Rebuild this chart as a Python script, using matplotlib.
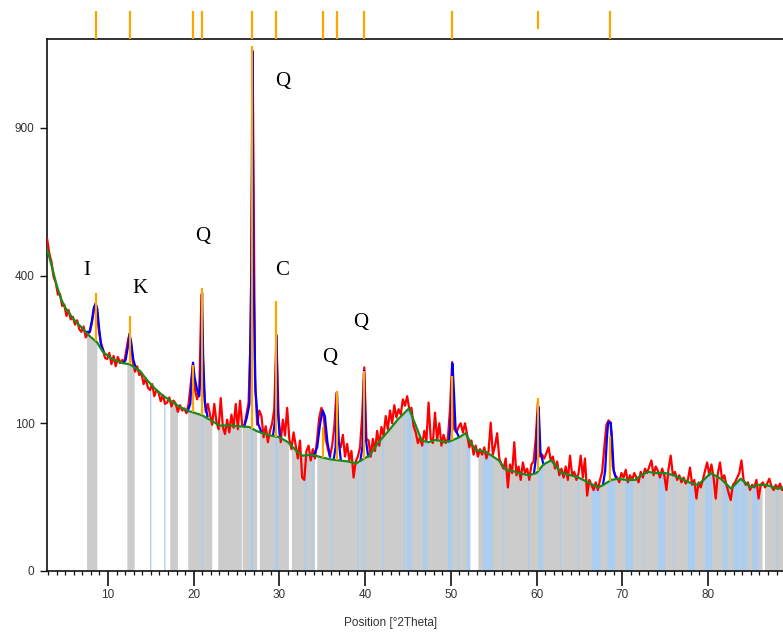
import numpy as np
import matplotlib
matplotlib.use("Agg")
import matplotlib.pyplot as plt
from matplotlib.transforms import blended_transform_factory

# ---- measured pattern: counts on a 0.25 deg grid starting at 2.90 deg ----
obs_start = 2.9
obs_step = 0.25
obs_counts = [
    505, 462, 438, 396,   382, 350, 352, 322,   # 2.9 - 4.65
    325, 298, 312, 290,   296, 278, 288, 268,   # 4.9 - 6.65
    262, 274, 250, 258,   262, 285, 318, 322,   # 6.9 - 8.65
    270, 240, 226, 208,   206, 218, 196, 212,   # 8.9 - 10.65
    192, 210, 198, 204,   200, 225, 250, 245,   # 10.9 - 12.65
    200, 182, 192, 176,   180, 160, 170, 154,   # 12.9 - 14.65
    150, 160, 140, 150,   146, 132, 142, 128,   # 14.9 - 16.65
    130, 138, 124, 133,   128, 116, 126, 118,   # 16.9 - 18.65
    121, 114, 128, 160,   195, 150, 135, 150,   # 18.9 - 20.65
    350, 160, 116, 128,   112, 98, 128, 102,    # 20.9 - 22.65
    92, 137, 95, 86,      105, 88, 112, 94,     # 22.9 - 24.65
    128, 92, 133, 98,     96, 112, 130, 260,    # 24.9 - 26.65
    1090, 170, 98, 118,   110, 82, 96, 76,      # 26.9 - 28.65
    90, 100, 120, 255,    110, 76, 105, 84,     # 28.9 - 30.65
    122, 80, 68, 88,      72, 58, 78, 40,       # 30.9 - 32.65
    38, 66, 72, 56,       68, 58, 80, 108,      # 32.9 - 34.65
    122, 112, 80, 68,     60, 72, 95, 145,      # 34.9 - 36.65
    75, 70, 85, 60,       74, 56, 66, 40,       # 36.9 - 38.65
    55, 60, 70, 110,      190, 80, 78, 60,      # 38.9 - 40.65
    80, 66, 90, 72,       95, 84, 110, 92,      # 40.9 - 42.65
    118, 100, 126, 108,   120, 112, 135, 125,   # 42.9 - 44.65
    140, 120, 122, 96,    88, 75, 82, 72,       # 44.9 - 46.65
    90, 78, 130, 80,      75, 115, 78, 100,     # 46.9 - 48.65
    72, 85, 75, 80,       120, 200, 92, 88,     # 48.9 - 50.65
    95, 100, 88, 100,     85, 70, 78, 62,       # 50.9 - 52.65
    72, 60, 68, 62,       70, 58, 66, 101,      # 52.9 - 54.65
    62, 72, 87, 58,       52, 48, 58, 32,       # 54.9 - 56.65
    52, 44, 76, 42,       50, 38, 54, 44,       # 56.9 - 58.65
    48, 38, 52, 55,       80, 130, 60, 62,      # 58.9 - 60.65
    58, 64, 70, 56,       60, 48, 55, 42,       # 60.9 - 62.65
    48, 40, 50, 38,       61, 42, 45, 38,       # 62.9 - 64.65
    44, 61, 40, 58,       26, 38, 34, 30,       # 64.9 - 66.65
    36, 30, 38, 45,       70, 98, 104, 100,     # 66.9 - 68.65
    50, 42, 40, 36,       44, 40, 47, 36,       # 68.9 - 70.65
    42, 38, 44, 40,       36, 45, 40, 48,       # 70.9 - 72.65
    44, 50, 56, 42,       50, 46, 40, 48,       # 72.9 - 74.65
    42, 30, 48, 61,       42, 45, 38, 42,       # 74.9 - 76.65
    36, 40, 35, 38,       49, 34, 38, 24,       # 76.9 - 78.65
    36, 32, 38, 46,       54, 42, 52, 40,       # 78.9 - 80.65
    24, 44, 54, 38,       42, 34, 28, 23,       # 80.9 - 82.65
    34, 36, 40, 44,       56, 38, 34, 36,       # 82.9 - 84.65
    30, 34, 32, 38,       24, 34, 36, 32,       # 84.9 - 86.65
    35, 39, 33, 30,       34, 31, 35, 30,       # 86.9 - 88.65
    33,                                         # 88.9
]

# ---- fitted background ----
bg_pos = [2.9, 3.5, 4.0, 4.5, 5.0, 6.0, 7.0, 7.9, 8.7, 9.4, 10.5, 11.7, 12.5,
          13.7, 14.5, 15.5, 16.4, 17.4, 18.4, 19.5, 21.0, 22.0, 23.0, 24.2,
          25.3, 26.5, 27.3, 28.0, 29.0, 30.0, 31.0, 32.0, 32.7, 33.8, 35.0,
          36.0, 37.0, 38.0, 38.95, 39.5, 40.5, 41.5, 42.8, 43.8, 45.1, 45.8,
          46.6, 47.4, 48.3, 49.2, 50.1, 51.0, 51.7, 52.3, 52.9, 54.1, 55.6,
          56.4, 57.2, 57.9, 59.1, 60.0, 60.8, 61.7, 62.3, 62.9, 64.0, 64.9,
          66.0, 67.2, 67.8, 68.7, 69.5, 70.5, 71.5, 72.2, 73.0, 74.0, 75.0,
          76.0, 76.9, 77.8, 78.8, 79.5, 80.3, 81.5, 82.7, 83.8, 85.0, 85.8,
          86.6, 87.3, 88.1, 88.9]
bg_counts = [475, 420, 375, 340, 318, 290, 270, 252, 240, 220, 206, 198, 196,
             184, 168, 152, 141, 132, 123, 117, 111, 104, 97, 97,
             96, 95, 90, 87, 84, 82, 76, 66, 61, 62, 59,
             57, 56, 55, 53, 56, 61, 75, 91, 105, 121, 100,
             78, 76, 79, 76, 78, 82, 87, 76, 67, 65, 56,
             47, 46, 44, 42, 44, 52, 56, 50, 44, 42, 40,
             36, 32, 34, 38, 39, 38, 38, 42, 45, 44, 44,
             42, 39, 36, 34, 38, 44, 39, 31, 39, 32, 34,
             34, 33, 31, 32]

# ---- calculated profile around each reflection ----
calc_illite_x = [7.5, 7.85, 8.1, 8.35, 8.55, 8.75, 8.95, 9.2, 9.5]
calc_illite_y = [262, 262, 285, 318, 328, 315, 272, 232, 220]
calc_kaol_x = [11.8, 12.05, 12.3, 12.5, 12.7, 12.95, 13.25]
calc_kaol_y = [199, 204, 228, 258, 240, 205, 188]
calc_q21_x = [19.3, 19.6, 19.78, 19.92, 20.1, 20.4, 20.65, 20.82, 20.97, 21.1, 21.3, 21.6]
calc_q21_y = [117, 128, 170, 199, 172, 150, 140, 190, 355, 210, 130, 110]
calc_q27_x = [25.9, 26.2, 26.5, 26.72, 26.85, 26.98, 27.2, 27.5, 27.9]
calc_q27_y = [96, 108, 128, 420, 1240, 400, 150, 100, 88]
calc_cal_x = [29.25, 29.5, 29.65, 29.8, 30.05]
calc_cal_y = [84, 105, 254, 120, 82]
calc_q35_x = [34.0, 34.4, 34.75, 35.05, 35.3, 35.6, 35.9]
calc_q35_y = [61, 70, 100, 118, 110, 76, 60]
calc_q37_x = [36.35, 36.55, 36.72, 36.9, 37.15]
calc_q37_y = [58, 70, 146, 80, 57]
calc_q40_x = [39.45, 39.7, 39.87, 40.05, 40.35]
calc_q40_y = [56, 72, 184, 82, 60]
calc_q50_x = [49.8, 50.0, 50.19, 50.35, 50.55, 50.9]
calc_q50_y = [77, 110, 197, 150, 92, 83]
calc_q60_x = [59.7, 59.95, 60.1, 60.25, 60.45, 60.8]
calc_q60_y = [44, 60, 110, 123, 65, 52]
calc_q68_x = [67.75, 68.0, 68.2, 68.35, 68.65, 68.8, 69.0, 69.3]
calc_q68_y = [34, 46, 80, 101, 101, 80, 46, 39]

# ---- reference pattern lines ----
ref_pos = [8.56, 12.53, 19.92, 20.97, 26.85, 29.65, 35.09, 36.72, 39.87, 50.19, 60.18, 68.56]
ref_top = [353, 297, 195, 366, 1265, 335, 95, 148, 184, 175, 137, 84]
ref_weak = [False] * 10 + [True, False]

# ---- phase labels ----
phase_text = ["I", "K", "Q", "Q", "C", "Q", "Q"]
phase_pos = [7.51, 13.70, 21.05, 30.38, 30.27, 35.87, 39.49]
phase_cnt = [413, 366, 512, 1100, 413, 209, 283]

# ---- background-region bands ----
gray_ranges = [(7.5, 8.7), (12.2, 13.05), (17.2, 18.1), (19.3, 22.1), (22.8, 25.55),
               (25.65, 27.35), (27.65, 31.05), (31.4, 34.1), (34.35, 52.2),
               (53.15, 86.3), (86.6, 88.9)]
peak_ranges = [(14.85, 15.0), (16.5, 16.65), (20.88, 21.02), (26.6, 26.85),
               (29.45, 29.75), (32.9, 33.1), (33.72, 33.88), (35.95, 36.1),
               (39.05, 39.2), (39.65, 39.85), (41.95, 42.1), (44.45, 44.6),
               (44.85, 45.35), (46.7, 47.2), (49.6, 50.1), (50.75, 50.9),
               (51.8, 52.2), (53.7, 54.8), (55.95, 56.1), (58.95, 59.1),
               (60.2, 60.7), (62.65, 62.8), (64.75, 64.9), (66.4, 67.4),
               (68.2, 69.1), (70.3, 71.2), (72.35, 72.5), (74.2, 75.0),
               (75.85, 76.0), (77.6, 78.4), (79.6, 80.4), (81.7, 82.3),
               (82.9, 83.7), (83.8, 84.5), (85.1, 85.8), (87.95, 88.1)]

y_ticks = [0, 100, 400, 900]
x_ticks = [10, 20, 30, 40, 50, 60, 70, 80]

# ---------------------------------------------------------------------
obs_x = obs_start + obs_step * np.arange(len(obs_counts))


def bg_at(x):
    return np.interp(x, bg_pos, bg_counts)


fig = plt.figure(figsize=(7.83, 6.35), dpi=100)
ax = fig.add_axes([0.060, 0.1008, 0.940, 0.8378])
ax.set_yscale('function', functions=(lambda v: np.sqrt(np.clip(v, 0, None)),
                                     lambda v: np.square(v)))
ax.set_xlim(2.88, 88.75)
ax.set_ylim(0, 1297)

for a, b in gray_ranges:
    xs = np.linspace(a, b, 80)
    ax.fill_between(xs, 0, bg_at(xs), color='#cccccc', lw=0, zorder=1)
for a, b in peak_ranges:
    xs = np.linspace(a, b, 20)
    ax.fill_between(xs, 0, bg_at(xs), color='#aacdf0', lw=0, zorder=2)

ax.plot(obs_x, obs_counts, color='#ff0000', lw=1.6, zorder=3)

for cx, cy in [(calc_illite_x, calc_illite_y), (calc_kaol_x, calc_kaol_y),
               (calc_q21_x, calc_q21_y), (calc_q27_x, calc_q27_y),
               (calc_cal_x, calc_cal_y), (calc_q35_x, calc_q35_y),
               (calc_q37_x, calc_q37_y), (calc_q40_x, calc_q40_y),
               (calc_q50_x, calc_q50_y), (calc_q60_x, calc_q60_y),
               (calc_q68_x, calc_q68_y)]:
    ax.plot(cx, cy, color='#0000ff', lw=1.6, zorder=4)

ax.plot(bg_pos, bg_counts, color='#1a8a1a', lw=1.6, zorder=5)

ax.vlines(ref_pos, bg_at(np.array(ref_pos)), ref_top, colors='#ffa500', lw=1.6, zorder=6)

# reference positions marked above the frame
trans = blended_transform_factory(ax.transData, ax.transAxes)
for p, weak in zip(ref_pos, ref_weak):
    lo = 1.019 if weak else 1.0
    ax.plot([p, p], [lo, 1.0526], transform=trans, color='#ffa500', lw=1.6,
            clip_on=False, solid_capstyle='butt', zorder=6)

for t, px, py in zip(phase_text, phase_pos, phase_cnt):
    ax.text(px, py, t, ha='center', va='center', fontsize=15,
            family='Liberation Serif', color='black', zorder=8,
            bbox=dict(facecolor='white', edgecolor='none', pad=3, alpha=0.9))

ax.spines['right'].set_visible(False)
for side in ['left', 'bottom', 'top']:
    ax.spines[side].set_linewidth(1.2)
    ax.spines[side].set_color('#111111')

ax.set_xticks(x_ticks)
ax.set_xticks(np.arange(3, 89, 1), minor=True)
ax.set_yticks(y_ticks)
ax.set_yticklabels([str(v) for v in y_ticks])
ax.yaxis.set_minor_locator(matplotlib.ticker.NullLocator())
ax.tick_params(axis='x', which='major', length=11, width=1.2, pad=2,
               labelsize=8.5, labelcolor='#333333', color='#111111')
ax.tick_params(axis='x', which='minor', length=3, width=0.9, color='#111111')
ax.tick_params(axis='y', which='major', length=5, width=1.0, pad=4,
               labelsize=8.5, labelcolor='#333333', color='#111111')
for lab in ax.get_xticklabels() + ax.get_yticklabels():
    lab.set_family('Liberation Sans')

ax.set_xlabel('Position [°2Theta]', fontsize=8.5, color='#333333',
              family='Liberation Sans', va='center')
ax.xaxis.set_label_coords(0.467, -0.097)

fig.savefig('out.png', dpi=100)
